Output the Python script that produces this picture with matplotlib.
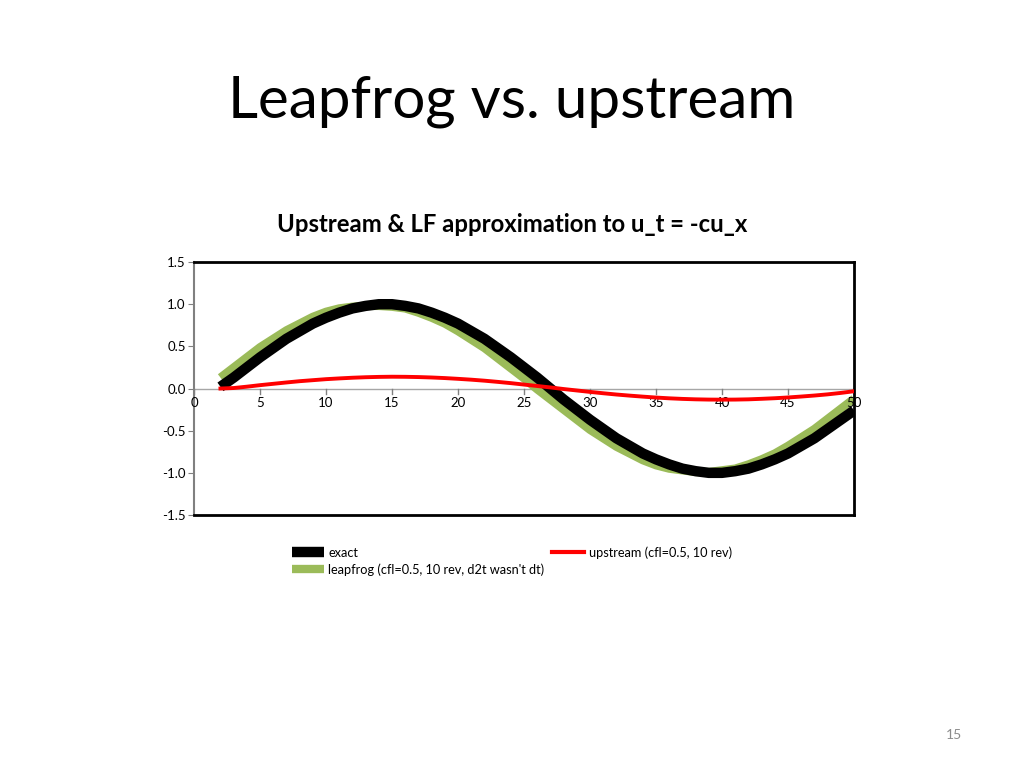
import matplotlib.pyplot as plt

plt.rcParams["font.family"] = ["Lato", "DejaVu Sans"]

# values, one per x step
x = list(range(2, 51))
exact = [0.02, 0.13, 0.25, 0.37, 0.48, 0.59, 0.68, 0.77, 0.84, 0.90, 0.95, 0.98, 1.00,
         1.00, 0.98, 0.95, 0.90, 0.84, 0.77, 0.68, 0.59, 0.48, 0.37, 0.25, 0.13, 0.00,
         -0.13, -0.25, -0.37, -0.48, -0.59, -0.68, -0.77, -0.84, -0.90, -0.95, -0.98,
         -1.00, -1.00, -0.98, -0.95, -0.90, -0.84, -0.77, -0.68, -0.59, -0.48, -0.37, -0.26]
upstream = [0.000, 0.006, 0.022, 0.040, 0.056, 0.072, 0.087, 0.099, 0.111, 0.120, 0.128,
            0.134, 0.138, 0.140, 0.139, 0.136, 0.131, 0.124, 0.115, 0.105, 0.093, 0.079,
            0.064, 0.047, 0.030, 0.013, -0.006, -0.023, -0.040, -0.056, -0.071, -0.084,
            -0.096, -0.107, -0.116, -0.123, -0.128, -0.131, -0.132, -0.131, -0.128, -0.122,
            -0.115, -0.106, -0.095, -0.083, -0.069, -0.052, -0.032]
leapfrog = [0.13, 0.25, 0.37, 0.49, 0.59, 0.69, 0.77, 0.85, 0.91, 0.95, 0.97, 0.98, 0.98,
            0.97, 0.95, 0.90, 0.84, 0.77, 0.68, 0.58, 0.48, 0.36, 0.24, 0.12, -0.01, -0.13,
            -0.25, -0.37, -0.49, -0.59, -0.69, -0.77, -0.85, -0.91, -0.95, -0.97, -0.99,
            -0.99, -0.97, -0.95, -0.90, -0.84, -0.77, -0.68, -0.58, -0.48, -0.36, -0.24, -0.12]

fig = plt.figure(figsize=(10.24, 7.68), dpi=100)
fig.text(0.5, 0.868, "Leapfrog vs. upstream", ha="center", va="center", fontsize=42)
fig.text(0.5, 0.708, "Upstream & LF approximation to u_t = -cu_x", ha="center",
         va="center", fontsize=17.2, fontweight="bold")
fig.text(0.932, 0.043, "15", ha="center", va="center", fontsize=10, color="#8c8c8c")

ax = fig.add_axes([0.1895, 0.3294, 0.6445, 0.3294])
l_lf, = ax.plot(x, leapfrog, color="#9bbb59", lw=6, solid_capstyle="butt",
                solid_joinstyle="round", zorder=2)
l_ex, = ax.plot(x, exact, color="black", lw=7.5, solid_capstyle="butt",
                solid_joinstyle="round", zorder=3)
l_up, = ax.plot(x, upstream, color="#ff0000", lw=2.8, solid_joinstyle="round", zorder=4)

ax.set_xlim(0, 50)
ax.set_ylim(-1.5, 1.5)
ax.set_yticks([-1.5, -1.0, -0.5, 0.0, 0.5, 1.0, 1.5])
ax.set_yticklabels([f"{v:.1f}" for v in ax.get_yticks()])
ax.set_xticks(range(0, 51, 5))

for s in ["top", "right", "bottom"]:
    ax.spines[s].set_color("black")
    ax.spines[s].set_linewidth(2)
ax.spines["left"].set_color("#808080")
ax.spines["left"].set_linewidth(1.5)
ax.axhline(0, color="#a6a6a6", lw=1, zorder=1)

ax.tick_params(axis="y", direction="out", length=4, color="#808080", labelsize=9.5, pad=2)
ax.tick_params(axis="x", direction="out", length=0, labelsize=9.5, pad=0)
# x tick marks and labels sit on the zero line
ax.set_xticklabels([])
for t in range(0, 51, 5):
    ax.plot([t, t], [0, -0.06], color="#808080", lw=1, zorder=1, clip_on=False)
    ax.text(t, -0.1, str(t), ha="center", va="top", fontsize=9.5)

leg = fig.legend([l_ex, l_lf, l_up],
                 ["exact", "leapfrog (cfl=0.5, 10 rev, d2t wasn't dt)", "upstream (cfl=0.5, 10 rev)"],
                 loc="upper left", bbox_to_anchor=(0.274, 0.304), ncol=2, frameon=False,
                 fontsize=9.2, handlelength=2.5, handletextpad=0.35, columnspacing=0.6,
                 labelspacing=0.35)
leg.legend_handles[2].set_linewidth(3)

fig.savefig("out.png", dpi=100)
